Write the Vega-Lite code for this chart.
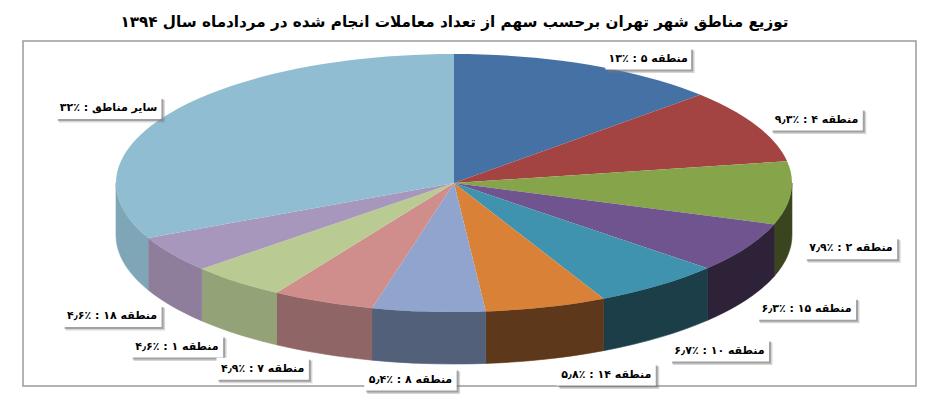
{
  "$schema": "https://vega.github.io/schema/vega-lite/v5.json",
  "autosize": {"type": "none"},
  "padding": {"left": 23, "top": 41, "right": 13, "bottom": 15},
  "width": 893,
  "height": 345,
  "background": "white",
  "view": {"stroke": "#9a9a9a", "strokeWidth": 1.5},
  "title": {
    "text": "توزیع مناطق شهر تهران برحسب سهم از تعداد معاملات انجام شده در مردادماه سال ۱۳۹۴",
    "font": "DejaVu Sans",
    "fontWeight": "bold",
    "fontSize": 15.2,
    "color": "black",
    "anchor": "middle",
    "dx": -15,
    "offset": 11
  },
  "data": {
    "values": [
      {"rank": 1, "label": "منطقه ۵ : ٪۱۳", "share": 13},
      {"rank": 2, "label": "منطقه ۴ : ٪۹٫۳", "share": 9.3},
      {"rank": 3, "label": "منطقه ۲ : ٪۷٫۹", "share": 7.9},
      {"rank": 4, "label": "منطقه ۱۵ : ٪۶٫۳", "share": 6.3},
      {"rank": 5, "label": "منطقه ۱۰ : ٪۶٫۷", "share": 6.2},
      {"rank": 6, "label": "منطقه ۱۴ : ٪۵٫۸", "share": 5.8},
      {"rank": 7, "label": "منطقه ۸ : ٪۵٫۴", "share": 5.4},
      {"rank": 8, "label": "منطقه ۷ : ٪۴٫۹", "share": 4.9},
      {"rank": 9, "label": "منطقه ۱ : ٪۴٫۶", "share": 4.6},
      {"rank": 10, "label": "منطقه ۱۸ : ٪۴٫۶", "share": 4.6},
      {"rank": 11, "label": "سایر مناطق : ٪۳۲", "share": 32}
    ]
  },
  "transform": [
    {"stack": "share", "groupby": [], "sort": [{"field": "rank", "order": "ascending"}], "offset": "normalize", "as": ["a0", "a1"]},
    {"calculate": "datum.a0*2*PI", "as": "t0"},
    {"calculate": "datum.a1*2*PI", "as": "t1"},
    {"calculate": "(datum.t0+datum.t1)/2", "as": "mid"},
    {"calculate": "'M0 0L'+(338*sin(datum.t0))+' '+(-129*cos(datum.t0))+'A338 129 0 '+(datum.t1-datum.t0>PI?1:0)+' 1 '+(338*sin(datum.t1))+' '+(-129*cos(datum.t1))+'Z'", "as": "top_path"},
    {"calculate": "max(datum.t0,PI/2)", "as": "f0"},
    {"calculate": "min(datum.t1,3*PI/2)", "as": "f1"},
    {"calculate": "'M'+(338*sin(datum.f0))+' '+(-129*cos(datum.f0))+'A338 129 0 0 1 '+(338*sin(datum.f1))+' '+(-129*cos(datum.f1))+'L'+(338*sin(datum.f1))+' '+(52-129*cos(datum.f1))+'A338 129 0 0 0 '+(338*sin(datum.f0))+' '+(52-129*cos(datum.f0))+'Z'", "as": "wall_path"},
    {"calculate": "sin(datum.mid)+(60/338)*clamp(4*sin(datum.mid),-1,1)", "as": "lx"},
    {"calculate": "cos(datum.mid)+(cos(datum.mid)<0?-(54-14*cos(datum.mid))/129:6/129)", "as": "ly"},
    {"calculate": "3.3*length(datum.label)", "as": "hw"},
    {"calculate": "'M'+(-datum.hw)+' -11H'+datum.hw+'V11H'+(-datum.hw)+'Z'", "as": "box_path"},
    {"calculate": "'M'+(2-datum.hw)+' -9H'+(datum.hw+2)+'V13H'+(2-datum.hw)+'Z'", "as": "shadow_path"},
    {"calculate": "'M'+(3-datum.hw)+' -8H'+(datum.hw+3.5)+'V14.5H'+(3-datum.hw)+'Z'", "as": "soft_path"}
  ],
  "layer": [
    {
      "transform": [{"filter": "datum.f1>datum.f0"}],
      "mark": {"type": "point", "filled": true, "opacity": 1, "size": 4, "strokeWidth": 0.6},
      "encoding": {
        "x": {"datum": 0, "type": "quantitative", "scale": {"domain": [-1.2751, 1.3669]}, "axis": null},
        "y": {"datum": 0, "type": "quantitative", "scale": {"domain": [-1.5736, 1.1008]}, "axis": null},
        "shape": {"field": "wall_path", "type": "nominal", "scale": null, "legend": null},
        "color": {
          "field": "rank",
          "type": "ordinal",
          "legend": null,
          "scale": {"domain": [3, 4, 5, 6, 7, 8, 9, 10, 11], "range": ["#3a441e", "#2d2238", "#1c3e49", "#5e381a", "#526079", "#8f6665", "#94a277", "#8e7e9c", "#7fa6b6"]}
        },
        "stroke": {
          "field": "rank",
          "type": "ordinal",
          "legend": null,
          "scale": {"domain": [3, 4, 5, 6, 7, 8, 9, 10, 11], "range": ["#3a441e", "#2d2238", "#1c3e49", "#5e381a", "#526079", "#8f6665", "#94a277", "#8e7e9c", "#7fa6b6"]}
        }
      }
    },
    {
      "mark": {"type": "point", "filled": true, "opacity": 1, "size": 4},
      "encoding": {
        "x": {"datum": 0, "type": "quantitative", "scale": {"domain": [-1.2751, 1.3669]}, "axis": null},
        "y": {"datum": 0, "type": "quantitative", "scale": {"domain": [-1.5736, 1.1008]}, "axis": null},
        "shape": {"field": "top_path", "type": "nominal", "scale": null, "legend": null},
        "color": {
          "field": "rank",
          "type": "nominal",
          "legend": null,
          "scale": {"domain": [1, 2, 3, 4, 5, 6, 7, 8, 9, 10, 11], "range": ["#4571a5", "#a44442", "#86a44a", "#6f548f", "#3f93ae", "#da8138", "#90a4cd", "#cf8d8b", "#b9cb92", "#a797bd", "#90bdd1"]}
        }
      }
    },
    {
      "mark": {"type": "point", "filled": true, "opacity": 0.3, "size": 4, "color": "#777777"},
      "encoding": {
        "x": {"field": "lx", "type": "quantitative", "scale": {"domain": [-1.2751, 1.3669]}, "axis": null},
        "y": {"field": "ly", "type": "quantitative", "scale": {"domain": [-1.5736, 1.1008]}, "axis": null},
        "shape": {"field": "soft_path", "type": "nominal", "scale": null, "legend": null}
      }
    },
    {
      "mark": {"type": "point", "filled": true, "opacity": 0.55, "size": 4, "color": "#777777"},
      "encoding": {
        "x": {"field": "lx", "type": "quantitative", "scale": {"domain": [-1.2751, 1.3669]}, "axis": null},
        "y": {"field": "ly", "type": "quantitative", "scale": {"domain": [-1.5736, 1.1008]}, "axis": null},
        "shape": {"field": "shadow_path", "type": "nominal", "scale": null, "legend": null}
      }
    },
    {
      "mark": {"type": "point", "filled": true, "opacity": 1, "size": 4, "color": "white"},
      "encoding": {
        "x": {"field": "lx", "type": "quantitative", "scale": {"domain": [-1.2751, 1.3669]}, "axis": null},
        "y": {"field": "ly", "type": "quantitative", "scale": {"domain": [-1.5736, 1.1008]}, "axis": null},
        "shape": {"field": "box_path", "type": "nominal", "scale": null, "legend": null}
      }
    },
    {
      "mark": {"type": "text", "font": "DejaVu Sans", "fontWeight": "bold", "fontSize": 11, "color": "black", "baseline": "middle"},
      "encoding": {
        "x": {"field": "lx", "type": "quantitative", "scale": {"domain": [-1.2751, 1.3669]}, "axis": null},
        "y": {"field": "ly", "type": "quantitative", "scale": {"domain": [-1.5736, 1.1008]}, "axis": null},
        "text": {"field": "label", "type": "nominal"}
      }
    }
  ],
  "resolve": {"scale": {"color": "independent", "stroke": "independent"}}
}
